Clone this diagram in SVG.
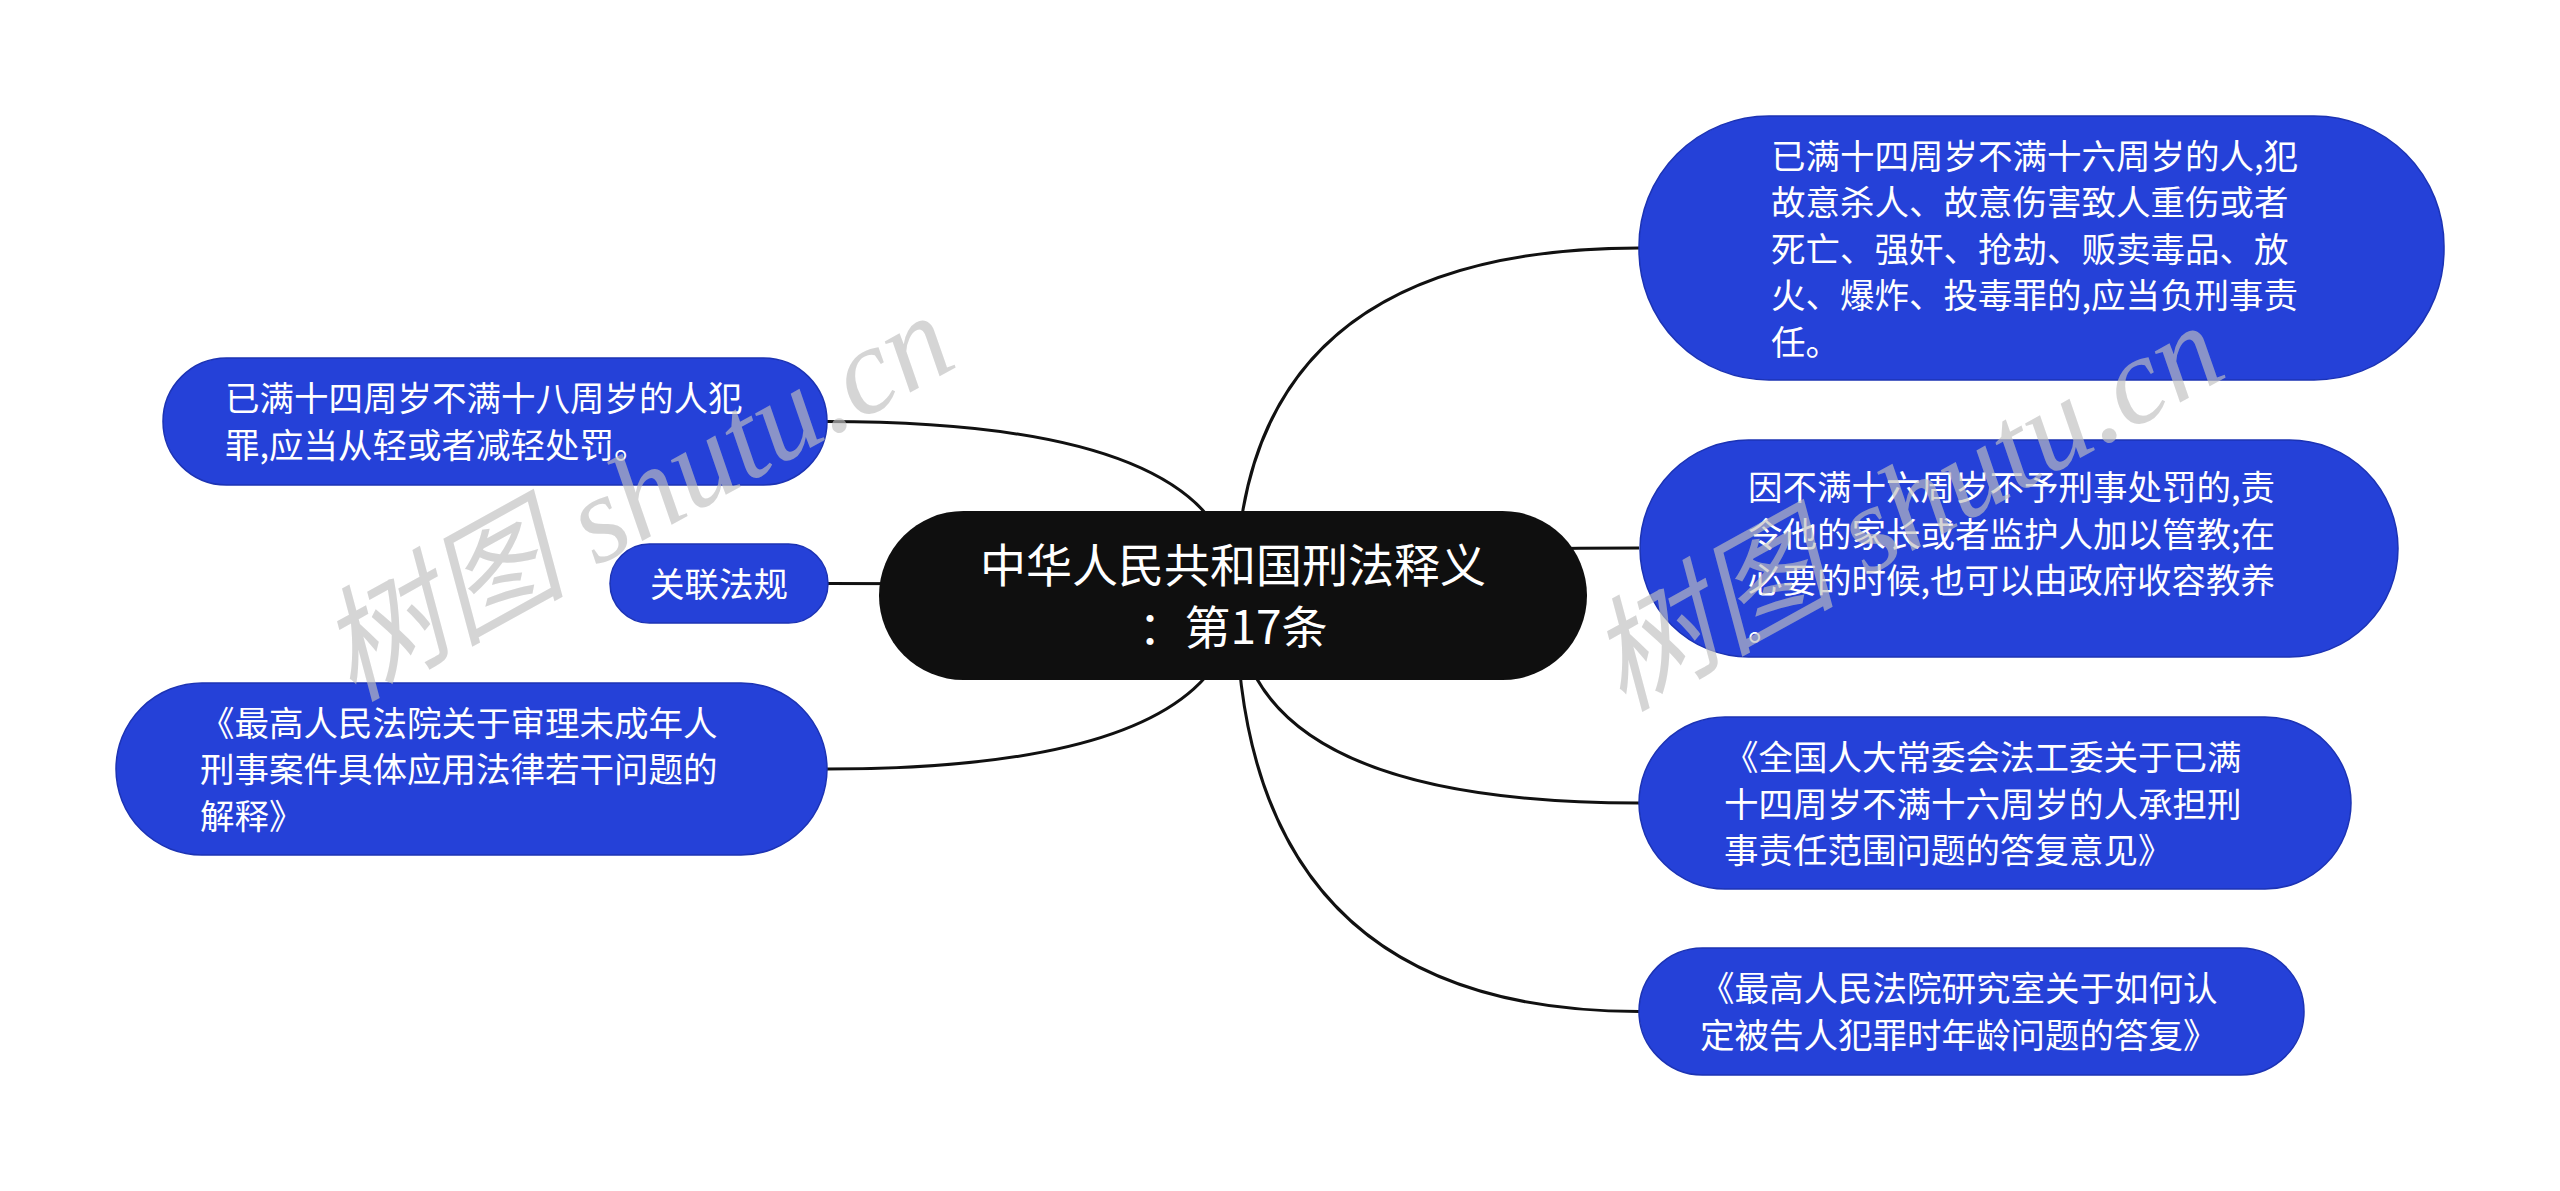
<svg xmlns="http://www.w3.org/2000/svg" width="2560" height="1191" viewBox="0 0 2560 1191">
<style>
.bg{fill:#ffffff}
.node{fill:#2541d8;stroke:#1c33b4;stroke-width:1.5}
.root{fill:#0f0f0f}
.conn{fill:none;stroke:#111111;stroke-width:3}
.t{font-family:"Noto Sans CJK SC","Noto Sans",sans-serif;font-size:34.5px;fill:#ffffff}
.tr{font-family:"Noto Sans CJK SC","Noto Sans",sans-serif;font-size:46px;fill:#ffffff;text-anchor:middle}
.wm{font-family:"Liberation Serif","Noto Sans CJK SC",serif;font-style:italic;font-size:124px;fill:#c0c0c0;opacity:0.65}
</style>
<rect class="bg" x="0" y="0" width="2560" height="1191"/>
<g id="connectors">
<path class="conn" d="M1236,595 Q1236,248 1639,248"/>
<path class="conn" d="M1236,595 Q1236,548 1639,548"/>
<path class="conn" d="M1236,595 Q1236,803 1639,803"/>
<path class="conn" d="M1236,595 Q1236,1011.5 1639,1011.5"/>
<path class="conn" d="M1236,595 Q1236,421.5 827,421.5"/>
<path class="conn" d="M1236,595 Q1236,583.5 828,583.5"/>
<path class="conn" d="M1236,595 Q1236,769 827,769"/>
</g>
<g id="root">
<rect class="root" x="879" y="511" width="708" height="169" rx="84.5"/>
<text class="tr"><tspan x="1233" y="581.5">中华人民共和国刑法释义</tspan><tspan x="1233" y="643.5">：第17条</tspan></text>
</g>
<g id="node-r1">
<rect class="node" x="1639" y="116" width="805" height="264" rx="130"/>
<text class="t"><tspan x="1771" y="168.5">已满十四周岁不满十六周岁的人,犯</tspan><tspan x="1771" y="215">故意杀人、故意伤害致人重伤或者</tspan><tspan x="1771" y="261.5">死亡、强奸、抢劫、贩卖毒品、放</tspan><tspan x="1771" y="308">火、爆炸、投毒罪的,应当负刑事责</tspan><tspan x="1771" y="354.5">任。</tspan></text>
</g>
<g id="node-r2">
<rect class="node" x="1640" y="440" width="758" height="217" rx="108.5"/>
<text class="t"><tspan x="1748" y="500">因不满十六周岁不予刑事处罚的,责</tspan><tspan x="1748" y="546.5">令他的家长或者监护人加以管教;在</tspan><tspan x="1748" y="593">必要的时候,也可以由政府收容教养</tspan><tspan x="1748" y="639.5">。</tspan></text>
</g>
<g id="node-r3">
<rect class="node" x="1639" y="717" width="712" height="172" rx="86"/>
<text class="t"><tspan x="1724" y="770">《全国人大常委会法工委关于已满</tspan><tspan x="1724" y="816.5">十四周岁不满十六周岁的人承担刑</tspan><tspan x="1724" y="863">事责任范围问题的答复意见》</tspan></text>
</g>
<g id="node-r4">
<rect class="node" x="1639" y="948" width="665" height="127" rx="63.5"/>
<text class="t"><tspan x="1700" y="1001">《最高人民法院研究室关于如何认</tspan><tspan x="1700" y="1048">定被告人犯罪时年龄问题的答复》</tspan></text>
</g>
<g id="node-l1">
<rect class="node" x="163" y="358" width="664" height="127" rx="63.5"/>
<text class="t"><tspan x="225" y="411">已满十四周岁不满十八周岁的人犯</tspan><tspan x="225" y="458">罪,应当从轻或者减轻处罚。</tspan></text>
</g>
<g id="node-l2">
<rect class="node" x="610" y="544" width="218" height="79" rx="39.5"/>
<text class="t" text-anchor="middle" x="719" y="596.5">关联法规</text>
</g>
<g id="node-l3">
<rect class="node" x="116" y="683" width="711" height="172" rx="86"/>
<text class="t"><tspan x="200" y="735.5">《最高人民法院关于审理未成年人</tspan><tspan x="200" y="782">刑事案件具体应用法律若干问题的</tspan><tspan x="200" y="828.5">解释》</tspan></text>
</g>
<g id="watermark">
<text class="wm" transform="translate(352,702) rotate(-29)">树图 shutu.cn</text>
<text class="wm" transform="translate(1622,712) rotate(-29)">树图 shutu.cn</text>
</g>
</svg>
